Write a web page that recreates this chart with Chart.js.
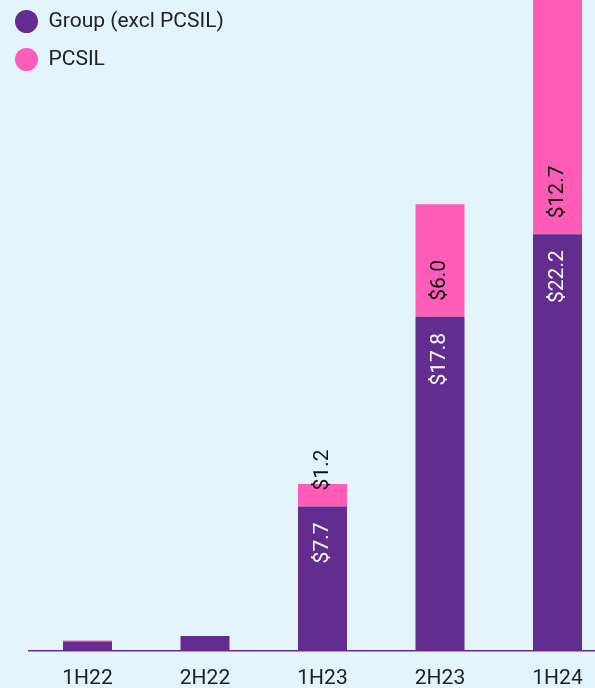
<!DOCTYPE html>
<html>
<head>
<meta charset="utf-8">
<script src="https://cdn.jsdelivr.net/npm/chart.js@4.4.1/dist/chart.umd.min.js"></script>
<style>
  html, body { margin: 0; padding: 0; background: #e3f4fd; overflow: hidden; width: 595px; height: 688px; }
  #wrap { position: absolute; left: 0; top: 0; width: 620px; height: 688px; }
</style>
</head>
<body>
<div id="wrap"><canvas id="c"></canvas></div>
<script>
const categories = ['1H22', '2H22', '1H23', '2H23', '1H24'];
const groupExclPCSIL = [0.5, 0.8, 7.7, 17.8, 22.2];
const pcsil = [0.06, 0, 1.2, 6.0, 12.7];
const seriesNames = ['Group (excl PCSIL)', 'PCSIL'];

const PURPLE = '#622d8f';
const PINK = '#ff5cb8';
const FONT = 'Roboto';

const legendShift = {
  id: 'legendShift',
  afterLayout(chart) {
    const lg = chart.legend;
    if (!lg) return;
    const dx = -2 - lg.left;
    const dy = -6 - lg.top;
    lg.left += dx; lg.right += dx;
    lg.top += dy; lg.bottom += dy;
  }
};

const barLabels = {
  id: 'barLabels',
  afterDatasetsDraw(chart) {
    const ctx = chart.ctx;
    const gap = 16;
    ctx.save();
    ctx.font = '21px ' + FONT;
    ctx.textBaseline = 'middle';
    chart.data.datasets.forEach((ds, di) => {
      const meta = chart.getDatasetMeta(di);
      meta.data.forEach((el, i) => {
        const v = ds.data[i];
        if (v < 1) return;
        const text = '$' + v.toFixed(1);
        ctx.save();
        if (di === 0) {
          ctx.translate(el.x, el.y + gap);
          ctx.rotate(-Math.PI / 2);
          ctx.textAlign = 'right';
          ctx.fillStyle = '#ffffff';
        } else {
          ctx.translate(el.x, el.base - gap);
          ctx.rotate(-Math.PI / 2);
          ctx.textAlign = 'left';
          ctx.fillStyle = '#111111';
        }
        ctx.fillText(text, 0, 0);
        ctx.restore();
      });
    });
    ctx.restore();
  }
};

new Chart(document.getElementById('c'), {
  type: 'bar',
  data: {
    labels: categories,
    datasets: [
      { label: seriesNames[0], data: groupExclPCSIL, backgroundColor: PURPLE, borderWidth: 0,
        barPercentage: 0.417, categoryPercentage: 1 },
      { label: seriesNames[1], data: pcsil, backgroundColor: PINK, borderWidth: 0,
        barPercentage: 0.417, categoryPercentage: 1 }
    ]
  },
  options: {
    responsive: true,
    maintainAspectRatio: false,
    animation: false,
    devicePixelRatio: 1,
    layout: { padding: { left: 28.75, right: 3.75, top: 0, bottom: 0 } },
    plugins: {
      legend: {
        position: 'chartArea',
        align: 'start',
        labels: {
          usePointStyle: true,
          pointStyle: 'circle',
          boxHeight: 16.3,
          pointStyleWidth: 23,
          padding: 17,
          color: '#222222',
          font: { family: FONT, size: 21 }
        }
      },
      tooltip: { enabled: false }
    },
    scales: {
      x: {
        stacked: true,
        grid: { display: false, drawTicks: false },
        border: { display: true, color: PURPLE, width: 1.5 },
        ticks: { color: '#222222', font: { family: FONT, size: 21 }, padding: 15, maxRotation: 0 },
        afterFit(scale) { scale.height = 37; }
      },
      y: {
        stacked: true,
        display: false,
        min: 0,
        max: 34.68
      }
    }
  },
  plugins: [legendShift, barLabels]
});
</script>
</body>
</html>
